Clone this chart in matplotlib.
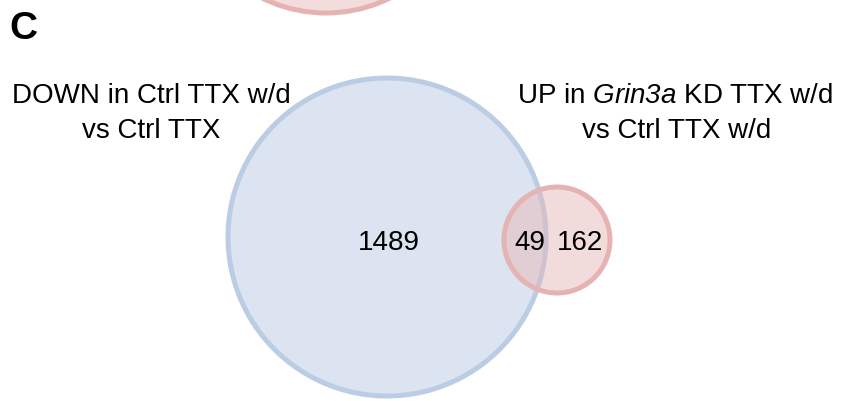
import matplotlib.pyplot as plt
from matplotlib.patches import Circle

# counts in each region of the venn diagram
label_a = ["DOWN in Ctrl TTX w/d", "vs Ctrl TTX"]
label_b = ["UP in $\\it{Grin3a}$ KD TTX w/d", "vs Ctrl TTX w/d"]
only_a = 1489
both = 49
only_b = 162
panel = "C"

plt.rcParams['font.family'] = ['Liberation Sans', 'DejaVu Sans']
# only math text used is the italic gene name, digits included
plt.rcParams['mathtext.fontset'] = 'custom'
plt.rcParams['mathtext.rm'] = 'Liberation Sans:italic'
plt.rcParams['mathtext.it'] = 'Liberation Sans:italic'

fig = plt.figure(figsize=(8.47, 4.01), dpi=100)
ax = fig.add_axes([0, 0, 1, 1])
ax.set_xlim(0, 847)
ax.set_ylim(401, 0)
ax.set_aspect('equal')
ax.axis('off')

blue_fill = '#dbe4f0'
blue_edge = '#bacde5'
pink_fill = '#e5b9b9'
pink_edge = '#e6b3b3'

# partial circle from the panel above
ax.add_patch(Circle((326, -131), 144, facecolor='#f2dcdc', edgecolor=pink_edge, lw=3.6))

# big set
ax.add_patch(Circle((387, 237), 159, facecolor=blue_fill, edgecolor=blue_edge, lw=3.6))
# small set, translucent fill so the overlap shows
ax.add_patch(Circle((557, 240), 53, facecolor=pink_fill, alpha=0.5, edgecolor='none'))
ax.add_patch(Circle((557, 240), 53, facecolor='none', edgecolor=pink_edge, lw=3.6))

ax.text(9, 39, panel, fontsize=28, fontweight='bold', ha='left', va='baseline')

fs = 20
ax.text(151, 103, label_a[0], fontsize=fs, ha='center', va='baseline')
ax.text(151, 138, label_a[1], fontsize=fs, ha='center', va='baseline')
ax.text(675, 103, label_b[0], fontsize=fs, ha='center', va='baseline')
ax.text(677, 138, label_b[1], fontsize=fs, ha='center', va='baseline')

ax.text(389, 250, str(only_a), fontsize=fs, ha='center', va='baseline')
ax.text(530, 250, str(both), fontsize=fs, ha='center', va='baseline')
ax.text(580, 250, str(only_b), fontsize=fs, ha='center', va='baseline')

fig.savefig('out.png', dpi=100)
